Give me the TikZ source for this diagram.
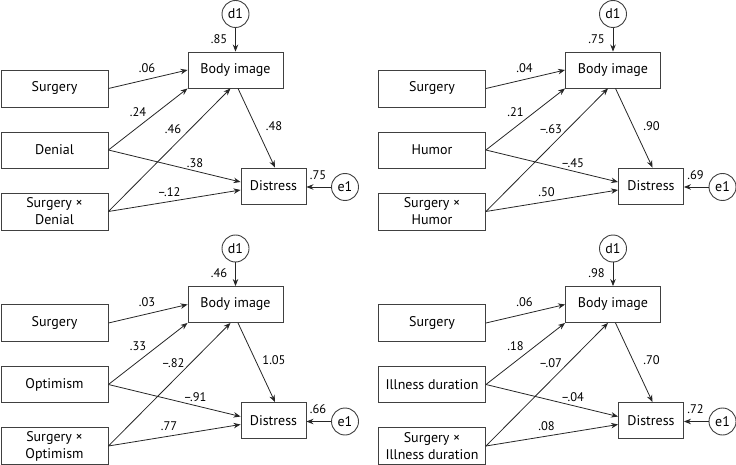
\documentclass[tikz,border=0pt]{standalone}
\usepackage{fontspec}
\setmainfont{PT Sans}
\usetikzlibrary{arrows.meta}
\tikzset{
  box/.style={draw=black!75, line width=0.9pt, minimum height=36pt, inner sep=0pt, align=center, font=\fontsize{14}{17}\selectfont},
  err/.style={circle, draw=black!75, line width=0.9pt, minimum size=27pt, inner sep=0pt, font=\fontsize{14}{14}\selectfont},
  arr/.style={draw=black!85, line width=0.8pt, -{Stealth[length=7pt,width=5.5pt]}},
  coef/.style={font=\fontsize{12.5}{13}\selectfont, inner sep=0pt},
}
\newcommand\panel[9]{%
  \node[box, minimum width=107pt, minimum height=37pt] (s) at (54.5,88.5) {Surgery};
  \node[box, minimum width=107pt] (m) at (54.5,150) {#1};
  \node[box, minimum width=107pt, minimum height=37pt] (i) at (54.5,211.5) {Surgery ×\\#1};
  \node[box, minimum width=95pt] (bi) at (235.5,70) {Body image};
  \node[box, minimum width=65pt] (ds) at (273.5,186) {Distress};
  \node[err] (d) at (235.5,14) {d1};
  \node[err] (e) at (345,187) {e1};
  \draw[arr] (d) -- (bi);
  \draw[arr] (e) -- (ds.east |- e);
  \draw[arr] (s.east) -- (bi.west);
  \draw[arr] (m.east) -- (bi.south west);
  \draw[arr] (m.east) -- ([yshift=4pt]ds.west);
  \draw[arr] (i.east) -- ([xshift=-5pt]bi.south);
  \draw[arr] (i.east) -- ([yshift=-4pt]ds.west);
  \draw[arr] ([xshift=2.5pt]bi.south) -- ([xshift=1.5pt]ds.north);
  \node[coef] (l1) at (219,39) {#2};
  \node[coef] (l2) at (147,68) {#3};
  \node[coef] (l3) at (138,112) {#4};
  \node[coef] (l4) at (173,129) {#5};
  \node[coef] (l5) at (274,126) {#6};
  \node[coef] (l6) at (195,163) {#7};
  \node[coef] (l7) at (169,192) {#8};
  \node[coef] (l8) at (318,175) {#9};
}
\begin{document}
\begin{tikzpicture}[x=1pt, y=-1pt]
  \useasboundingbox (0,0) rectangle (736,465);
  \begin{scope}[name prefix=tl-]
    \panel{Denial}{.85}{.06}{.24}{.46}{.48}{.38}{–.12}{.75}
  \end{scope}
  \begin{scope}[shift={(377.5,0)}, name prefix=tr-]
    \panel{Humor}{.75}{.04}{.21}{–.63}{.90}{–.45}{.50}{.69}
  \end{scope}
  \begin{scope}[shift={(0,234.5)}, name prefix=bl-]
    \panel{Optimism}{.46}{.03}{.33}{–.82}{1.05}{–.91}{.77}{.66}
  \end{scope}
  \begin{scope}[shift={(377.5,234.5)}, name prefix=br-]
    \panel{Illness duration}{.98}{.06}{.18}{–.07}{.70}{–.04}{.08}{.72}
  \end{scope}
\end{tikzpicture}
\end{document}
